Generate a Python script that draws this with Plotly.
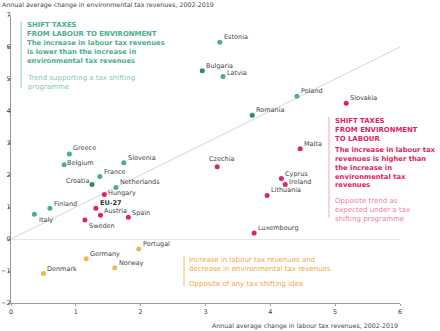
import plotly.graph_objects as go

# ---------------- data ----------------
countries = ["Estonia", "Bulgaria", "Latvia", "Poland", "Romania", "Greece", "Belgium",
             "Slovenia", "France", "Croatia", "Netherlands", "Finland", "Italy",
             "Slovakia", "Czechia", "Malta", "Cyprus", "Ireland", "Lithuania", "Luxembourg",
             "Hungary", "EU-27", "Austria", "Spain", "Sweden",
             "Portugal", "Germany", "Norway", "Denmark"]
labour = [3.22, 2.95, 3.27, 4.41, 3.72, 0.90, 0.82,
          1.74, 1.37, 1.25, 1.62, 0.60, 0.36,
          5.17, 3.18, 4.46, 4.17, 4.23, 3.95, 3.75,
          1.44, 1.31, 1.38, 1.81, 1.14,
          1.97, 1.16, 1.60, 0.50]
environment = [6.15, 5.26, 5.08, 4.46, 3.87, 2.66, 2.32,
               2.38, 1.95, 1.70, 1.61, 0.96, 0.77,
               4.24, 2.26, 2.82, 1.89, 1.70, 1.36, 0.19,
               1.39, 0.96, 0.74, 0.68, 0.59,
               -0.31, -0.62, -0.90, -1.08]
group = (["green"] * 13) + (["pink"] * 12) + (["orange"] * 4)
x_ticks = [0, 1, 2, 3, 4, 5, 6]
y_ticks = [-2, -1, 0, 1, 2, 3, 4, 5, 6, 7]

# ---------------- style ----------------
FONT = "DejaVu Sans"
GREEN = "#4dad8c"
GREEN_DARK = "#2f8b6c"
PINK = "#e0245e"
PINK_LIGHT = "#ec7e9f"
ORANGE = "#f5b257"
ORANGE_TXT = "#efa548"
LABEL = "#444444"
dark_green = {"Romania", "Croatia", "Bulgaria"}

def colour(c, g):
    if g == "green":
        return GREEN_DARK if c in dark_green else GREEN
    return PINK if g == "pink" else ORANGE

colors = [colour(c, g) for c, g in zip(countries, group)]

# label placement: (xanchor, xshift, yshift)
place = {c: ("left", 2, 5) for c in countries}
place.update({
    "Latvia": ("left", 2, 3), "Belgium": ("left", 1, 2), "Hungary": ("left", 2, 2),
    "Ireland": ("left", 2, 3), "Croatia": ("right", -1, 4), "Italy": ("left", 3, -6),
    "Sweden": ("left", 2, -6), "Czechia": ("center", 4, 8), "Greece": ("left", 2, 6),
    "Spain": ("left", 2, 4), "Austria": ("left", 2, 4), "Finland": ("left", 2, 4),
})

W, H = 440, 331
ML, MR, MT, MB = 11, 40, 15, 28
PW, PH = W - ML - MR, H - MT - MB

def px(x):
    return (x - ML) / PW

def py(y):
    return (H - MB - y) / PH

fig = go.Figure()
# reference diagonal (equal growth)
fig.add_trace(go.Scatter(x=[0, 6], y=[0, 6], mode="lines",
                         line=dict(color="#d4d4d4", width=1), hoverinfo="skip",
                         showlegend=False))
fig.add_trace(go.Scatter(x=labour, y=environment, mode="markers",
                         marker=dict(color=colors, size=5), text=countries,
                         showlegend=False))

annotations = []
for c, xv, yv in zip(countries, labour, environment):
    xa, xs, ys = place[c]
    bold = c == "EU-27"
    annotations.append(dict(
        x=xv, y=yv, xref="x", yref="y", text=f"<b>{c}</b>" if bold else c,
        showarrow=False, xanchor=xa, yanchor="middle", xshift=xs, yshift=ys,
        font=dict(family=FONT, size=6.5, color="#333333" if bold else LABEL)))

def block(xp, yp, text, color, size):
    annotations.append(dict(x=px(xp), y=py(yp), xref="paper", yref="paper", text=text,
                            showarrow=False, xanchor="left", yanchor="top", align="left",
                            font=dict(family=FONT, size=size, color=color)))

# top-left box
block(25, 19, "<b>SHIFT TAXES<br>FROM LABOUR TO ENVIRONMENT</b>", GREEN, 6.9)
block(25, 37, "<b>The increase in labour tax revenues<br>is lower than the increase in<br>environmental tax revenues</b>", GREEN, 6.8)
block(25, 72, "Trend supporting a tax shifting<br>programme", "#85c8ae", 7)
# right box
block(333, 115, "<b>SHIFT TAXES<br>FROM ENVIRONMENT<br>TO LABOUR</b>", PINK, 6.9)
block(333, 144, "<b>The increase in labour tax<br>revenues is higher than<br>the increase in<br>environmental tax<br>revenues</b>", PINK, 6.8)
block(333, 195, "Opposite trend as<br>expected under a tax<br>shifting programme", PINK_LIGHT, 7)
# orange box
block(187, 254, "Increase in labour tax revenues and<br>decrease in environmental tax revenues", ORANGE_TXT, 7)
block(187, 278, "Opposite of any tax shifting idea", ORANGE_TXT, 7)

# axis titles
annotations.append(dict(x=0, y=1, xref="paper", yref="paper", text="Annual average change in environmental tax revenues, 2002-2019",
                        showarrow=False, xanchor="left", yanchor="bottom", xshift=-ML, yshift=4,
                        font=dict(family=FONT, size=6.3, color=LABEL)))
annotations.append(dict(x=1, y=0, xref="paper", yref="paper", text="Annual average change in labour tax revenues, 2002-2019",
                        showarrow=False, xanchor="right", yanchor="top", yshift=-17,
                        font=dict(family=FONT, size=6.3, color=LABEL)))

shapes = [
    dict(type="line", xref="paper", yref="paper", x0=px(21), x1=px(21), y0=py(21), y1=py(88),
         line=dict(color="#b9dfd0", width=1.5)),
    dict(type="line", xref="paper", yref="paper", x0=px(329), x1=px(329), y0=py(117), y1=py(218),
         line=dict(color="#f6c3d2", width=1.5)),
    dict(type="line", xref="paper", yref="paper", x0=px(184), x1=px(184), y0=py(256), y1=py(286),
         line=dict(color="#f8cf95", width=1.5)),
]

axis_common = dict(showgrid=False, showline=True, linecolor="#9a9a9a", linewidth=1,
                   ticks="outside", ticklen=2, tickcolor="#9a9a9a",
                   tickfont=dict(family=FONT, size=6.5, color="#444444"))
fig.update_layout(
    width=W, height=H, margin=dict(l=ML, r=MR, t=MT, b=MB, autoexpand=False),
    paper_bgcolor="white", plot_bgcolor="white",
    xaxis=dict(range=[0, 6], tickvals=x_ticks, zeroline=False, **axis_common),
    yaxis=dict(range=[-2, 7], tickvals=y_ticks, zeroline=True, zerolinecolor="#e6e6e6",
               zerolinewidth=1, ticklabelstandoff=-4, **axis_common),
    annotations=annotations, shapes=shapes,
)
fig.write_html("out.html")
